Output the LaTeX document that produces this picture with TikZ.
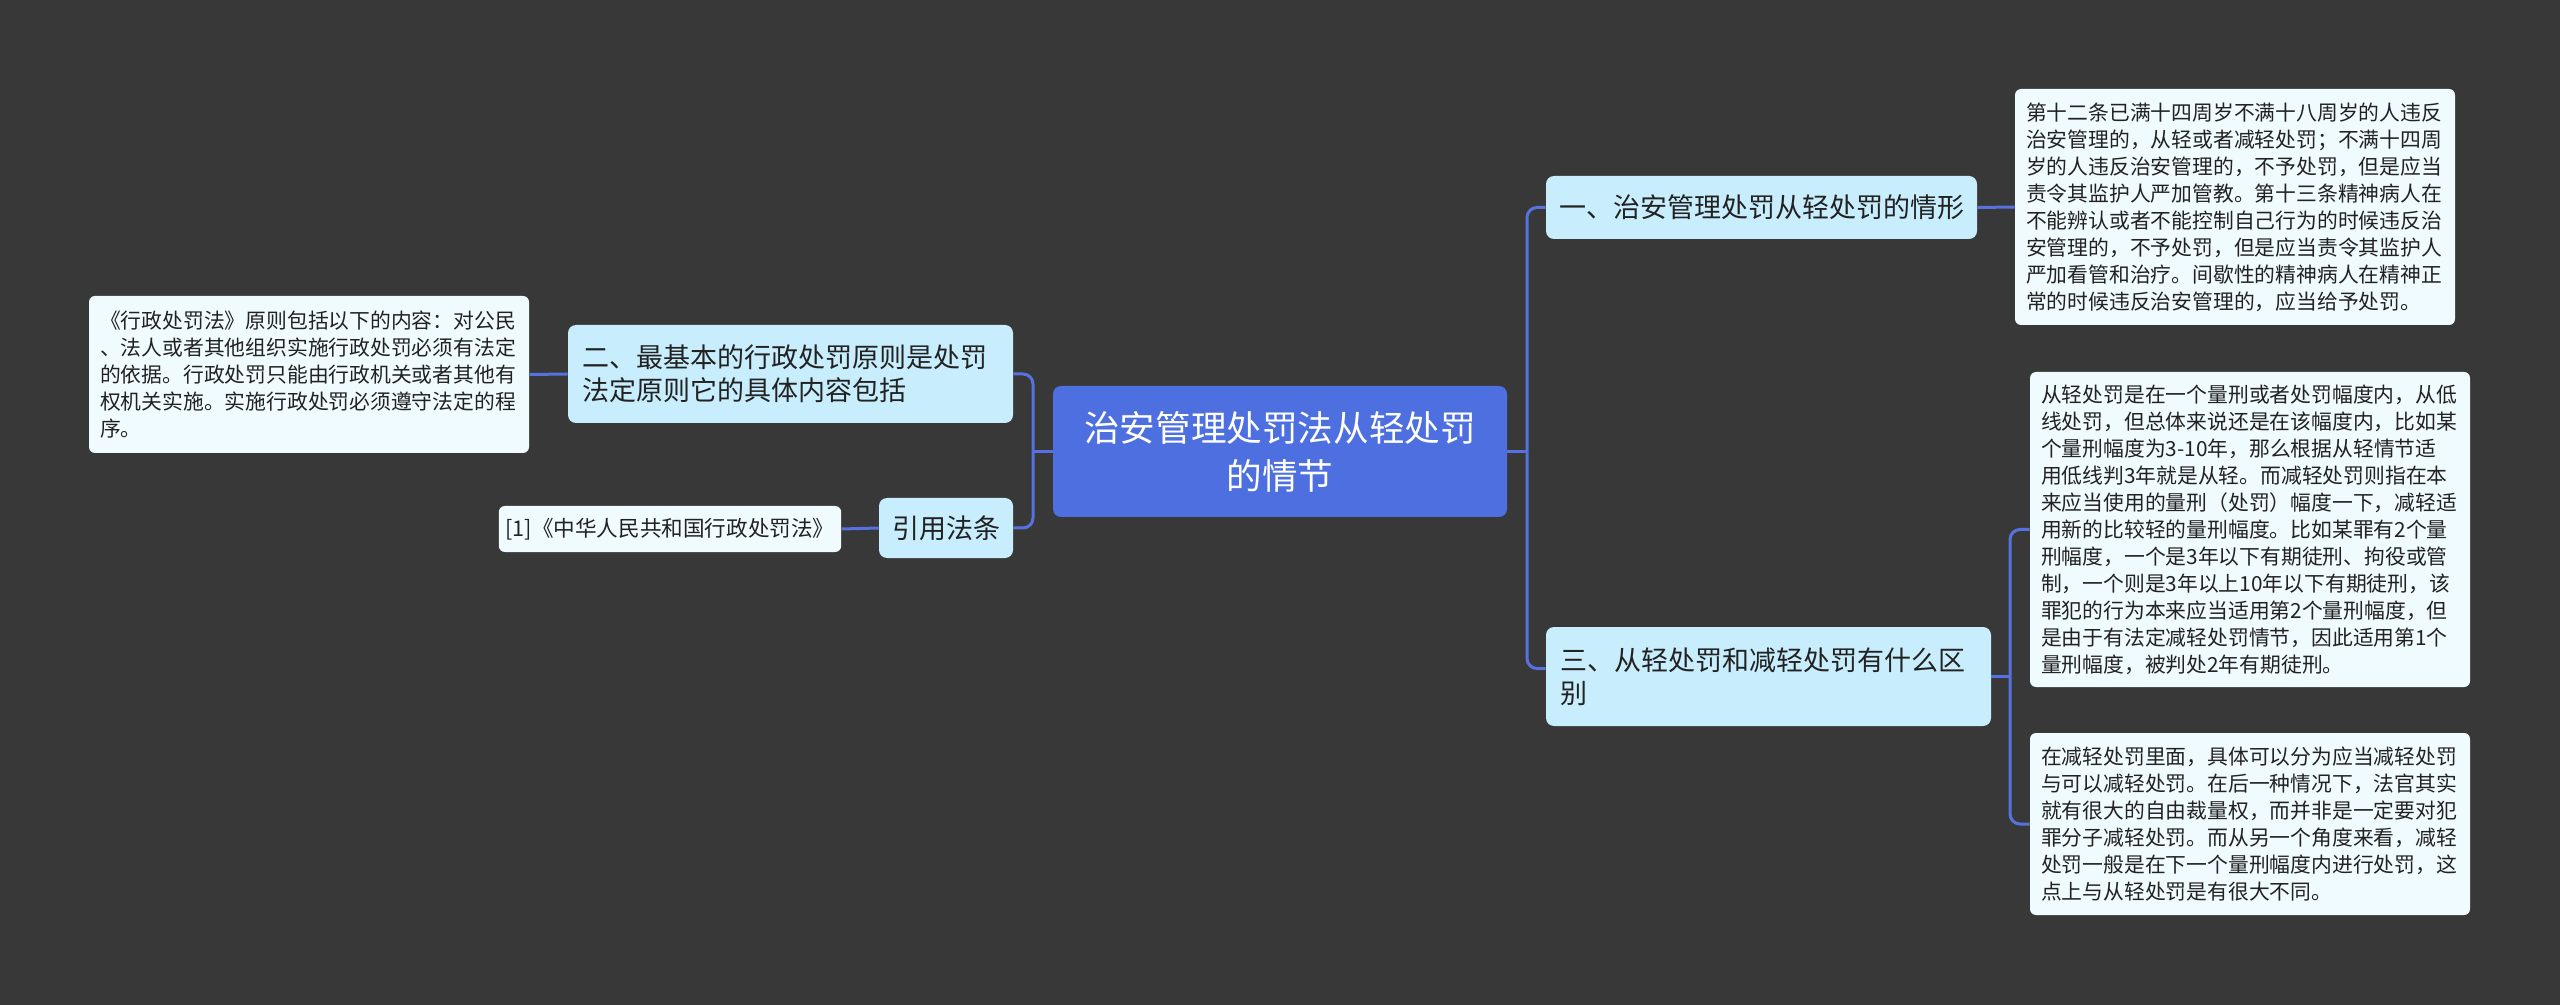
\documentclass[tikz,border=0pt]{standalone}
\usepackage{fontspec}
\setmainfont{Noto Sans CJK SC}
\definecolor{bg}{HTML}{383838}
\definecolor{rootc}{HTML}{4D6FE0}
\definecolor{topicc}{HTML}{C8EDFC}
\definecolor{leafc}{HTML}{F0FBFF}
\definecolor{txt}{HTML}{222222}
\definecolor{connc}{HTML}{5572E0}
\begin{document}
\begin{tikzpicture}[x=0.5pt,y=-0.5pt,
  box/.style={rounded corners=4pt, inner ysep=0pt, anchor=center},
  rootbox/.style={box, fill=rootc, text=white, font=\fontsize{17.8pt}{24pt}\selectfont,
    align=center, minimum width=227pt, minimum height=65.5pt},
  topic/.style={box, fill=topicc, text=txt, font=\fontsize{13.5pt}{16.7pt}\selectfont},
  topicwide/.style={topic, text width=208.5pt, inner xsep=7pt, align=left},
  leaf/.style={box, fill=leafc, text=txt, font=\fontsize{10.4pt}{13.5pt}\selectfont,
    rounded corners=3pt},
  leafwide/.style={leaf, text width=209pt, inner xsep=5.5pt, align=left},
  conn/.style={draw=connc, line width=1.5pt},
  connr/.style={conn, rounded corners=5pt}]
\useasboundingbox (0,0) rectangle (2560,1005);
\fill[bg] (0,0) rectangle (2560,1005);

% nodes
\node[rootbox] (root) at (1280,451.5) {治安管理处罚法从轻处罚\\的情节};

\node[topic, minimum width=215.5pt, minimum height=31.5pt] (n1) at (1761.5,207.5)
  {一、治安管理处罚从轻处罚的情形};
\node[topicwide, minimum height=49.5pt] (n3) at (1768.5,676.5)
  {三、从轻处罚和减轻处罚有什么区\\别};
\node[topicwide, minimum height=49pt] (n2) at (790.5,374)
  {二、最基本的行政处罚原则是处罚\\法定原则它的具体内容包括};
\node[topic, minimum width=67pt, minimum height=30pt] (cite) at (946,528) {引用法条};

\node[leaf, font=\fontsize{10.8pt}{13.5pt}\selectfont, minimum width=170pt,
  minimum height=23pt] (citeleaf) at (670,529)
  {[1]《中华人民共和国行政处罚法》};

\node[leafwide, minimum height=78.5pt] (lleaf) at (309,374.5)
  {《行政处罚法》原则包括以下的内容：对公民\\
   、法人或者其他组织实施行政处罚必须有法定\\
   的依据。行政处罚只能由行政机关或者其他有\\
   权机关实施。实施行政处罚必须遵守法定的程\\
   序。};

\node[leafwide, minimum height=118pt] (leaf1) at (2235,207)
  {第十二条已满十四周岁不满十八周岁的人违反\\
   治安管理的，从轻或者减轻处罚；不满十四周\\
   岁的人违反治安管理的，不予处罚，但是应当\\
   责令其监护人严加管教。第十三条精神病人在\\
   不能辨认或者不能控制自己行为的时候违反治\\
   安管理的，不予处罚，但是应当责令其监护人\\
   严加看管和治疗。间歇性的精神病人在精神正\\
   常的时候违反治安管理的，应当给予处罚。};

\node[leafwide, minimum height=157.5pt] (leaf2) at (2250,529.5)
  {从轻处罚是在一个量刑或者处罚幅度内，从低\\
   线处罚，但总体来说还是在该幅度内，比如某\\
   个量刑幅度为3-10年，那么根据从轻情节适\\
   用低线判3年就是从轻。而减轻处罚则指在本\\
   来应当使用的量刑（处罚）幅度一下，减轻适\\
   用新的比较轻的量刑幅度。比如某罪有2个量\\
   刑幅度，一个是3年以下有期徒刑、拘役或管\\
   制，一个则是3年以上10年以下有期徒刑，该\\
   罪犯的行为本来应当适用第2个量刑幅度，但\\
   是由于有法定减轻处罚情节，因此适用第1个\\
   量刑幅度，被判处2年有期徒刑。};

\node[leafwide, minimum height=91pt] (leaf3) at (2250,824)
  {在减轻处罚里面，具体可以分为应当减轻处罚\\
   与可以减轻处罚。在后一种情况下，法官其实\\
   就有很大的自由裁量权，而并非是一定要对犯\\
   罪分子减轻处罚。而从另一个角度来看，减轻\\
   处罚一般是在下一个量刑幅度内进行处罚，这\\
   点上与从轻处罚是有很大不同。};

% junctions
\coordinate (jR) at (1527,451.5);
\coordinate (jL) at (1033,451.5);
\coordinate (j3) at (2010,676.5);

% connectors
\draw[conn] (root.east) -- (jR);
\draw[connr] (jR) |- (n1.west);
\draw[connr] (jR) |- ([yshift=4pt]n3.west);
\draw[conn] (root.west) -- (jL);
\draw[connr] (jL) |- (n2.east);
\draw[connr] (jL) |- (cite.east);
\draw[conn] (n1.east) -- (leaf1.west);
\draw[conn] (n3.east) -- (j3);
\draw[connr] (j3) |- (leaf2.west);
\draw[connr] (j3) |- (leaf3.west);
\draw[conn] (n2.west) -- (lleaf.east);
\draw[conn] (cite.west) -- (citeleaf.east);
\end{tikzpicture}
\end{document}
